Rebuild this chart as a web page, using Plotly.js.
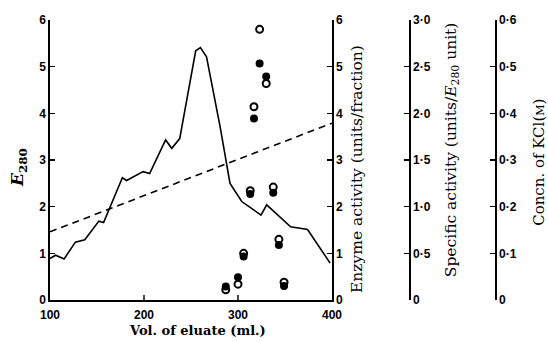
<!DOCTYPE html>
<html>
<head>
<meta charset="utf-8">
<script src="https://cdn.plot.ly/plotly-3.0.1.min.js"></script>
<style>html,body{margin:0;padding:0;background:#fff;}#chart{width:548px;height:342px;}</style>
</head>
<body>
<div id="chart"></div>
<script>
// E280 elution profile (solid line)
const e280Vol = [100, 106, 115, 127, 137, 152, 157, 177, 181.5, 199, 206, 223, 229.5, 238, 255, 260, 266.5, 281, 291.5, 304, 324.5, 330.5, 356, 374, 398];
const e280Val = [0.89, 0.96, 0.88, 1.24, 1.29, 1.69, 1.66, 2.62, 2.56, 2.75, 2.71, 3.43, 3.25, 3.46, 5.34, 5.41, 5.21, 3.71, 2.5, 2.11, 1.82, 2.04, 1.57, 1.51, 0.79];
// Enzyme activity (filled circles, units/fraction)
const fracVol = [287, 300, 306, 313, 317, 323, 330, 337.5, 343.5, 349];
const enzymeAct = [0.29, 0.49, 0.93, 2.27, 3.89, 5.07, 4.79, 2.30, 1.18, 0.30];
// Specific activity (open circles, units/E280 unit)
const specificAct = [0.11, 0.17, 0.50, 1.17, 2.07, 2.90, 2.32, 1.21, 0.65, 0.19];
// KCl gradient (dashed line)
const kclVol = [100, 400];
const kclConc = [0.146, 0.379];
// Tick labels
const xTicks = [100, 200, 300, 400];
const yTicks = [0, 1, 2, 3, 4, 5, 6];
const saTicks = [0, 0.5, 1, 1.5, 2, 2.5, 3];
const saTickText = ['0', '0·5', '1·0', '1·5', '2·0', '2·5', '3·0'];
const kclTicks = [0, 0.1, 0.2, 0.3, 0.4, 0.5, 0.6];
const kclTickText = ['0', '0·1', '0·2', '0·3', '0·4', '0·5', '0·6'];

const tickFont = {family: 'Liberation Sans, Arial, sans-serif', size: 12, color: '#000', weight: 'bold'};
const titleFont = {family: 'DejaVu Serif, serif', size: 15.5, color: '#000'};

const traces = [
  {x: e280Vol, y: e280Val, type: 'scatter', mode: 'lines', line: {color: '#000', width: 1.6}, xaxis: 'x', yaxis: 'y', hoverinfo: 'skip'},
  {x: kclVol, y: kclConc, type: 'scatter', mode: 'lines', line: {color: '#000', width: 1.6, dash: '7px,5px'}, xaxis: 'x', yaxis: 'y4', hoverinfo: 'skip'},
  {x: fracVol, y: specificAct, type: 'scatter', mode: 'markers', marker: {symbol: 'circle-open', size: 7, color: '#000', line: {width: 2, color: '#000'}}, xaxis: 'x', yaxis: 'y3', hoverinfo: 'skip'},
  {x: fracVol, y: enzymeAct, type: 'scatter', mode: 'markers', marker: {symbol: 'circle', size: 8, color: '#000'}, xaxis: 'x', yaxis: 'y2', hoverinfo: 'skip'}
];

const dom = (332 - 50) / 478;
const commonY = {showgrid: false, zeroline: false, showline: true, linecolor: '#000', linewidth: 1.6, ticks: 'inside', ticklen: 5, tickwidth: 1.4, tickcolor: '#000', tickfont: tickFont, fixedrange: true};

const layout = {
  width: 548, height: 342,
  margin: {l: 50, r: 20, t: 20, b: 42},
  paper_bgcolor: '#fff', plot_bgcolor: '#fff',
  showlegend: false,
  xaxis: {domain: [0, dom], range: [100, 400], tickvals: xTicks, ticktext: xTicks.map(String), showgrid: false, zeroline: false, showline: true, linecolor: '#000', linewidth: 1.6, ticks: 'inside', ticklen: 5, tickwidth: 1.4, tickfont: tickFont, ticklabelstandoff: 3, fixedrange: true},
  yaxis: Object.assign({}, commonY, {range: [0, 6], tickvals: yTicks, ticktext: yTicks.map(String), side: 'left'}),
  yaxis2: Object.assign({}, commonY, {range: [0, 6], tickvals: yTicks, ticktext: yTicks.map(String), side: 'right', overlaying: 'y', anchor: 'x'}),
  yaxis3: Object.assign({}, commonY, {range: [0, 3], tickvals: saTicks, ticktext: saTickText, side: 'right', overlaying: 'y', anchor: 'free', position: (409 - 50) / 478}),
  yaxis4: Object.assign({}, commonY, {range: [0, 0.6], tickvals: kclTicks, ticktext: kclTickText, side: 'right', overlaying: 'y', anchor: 'free', position: (495 - 50) / 478}),
  annotations: [
    {text: '<i><b>E</b></i><sub><b>280</b></sub>', xref: 'paper', yref: 'paper', x: -0.067, y: 0.475, textangle: -90, showarrow: false, font: {family: 'DejaVu Serif, serif', size: 17, color: '#000'}, xanchor: 'center', yanchor: 'middle'},
    {text: 'Enzyme activity (units/fraction)', xref: 'paper', yref: 'paper', x: (357 - 50) / 478, y: 0.468, textangle: -90, showarrow: false, font: titleFont, xanchor: 'center', yanchor: 'middle'},
    {text: 'Specific activity (units/<i>E</i><sub>280</sub> unit)', xref: 'paper', yref: 'paper', x: (452 - 50) / 478, y: 0.535, textangle: -90, showarrow: false, font: titleFont, xanchor: 'center', yanchor: 'middle'},
    {text: 'Concn. of KCl(<span style="font-size:11px">M</span>)', xref: 'paper', yref: 'paper', x: (539 - 50) / 478, y: 0.49, textangle: -90, showarrow: false, font: {family: 'DejaVu Serif, serif', size: 15, color: '#000'}, xanchor: 'center', yanchor: 'middle'},
    {text: '<b>Vol. of eluate (ml.)</b>', xref: 'paper', yref: 'paper', x: (197 - 50) / 478, y: -0.11, showarrow: false, font: {family: 'DejaVu Serif, serif', size: 13, color: '#000'}, xanchor: 'center', yanchor: 'middle'}
  ]
};

Plotly.newPlot('chart', traces, layout, {staticPlot: true, displayModeBar: false});
</script>
</body>
</html>
